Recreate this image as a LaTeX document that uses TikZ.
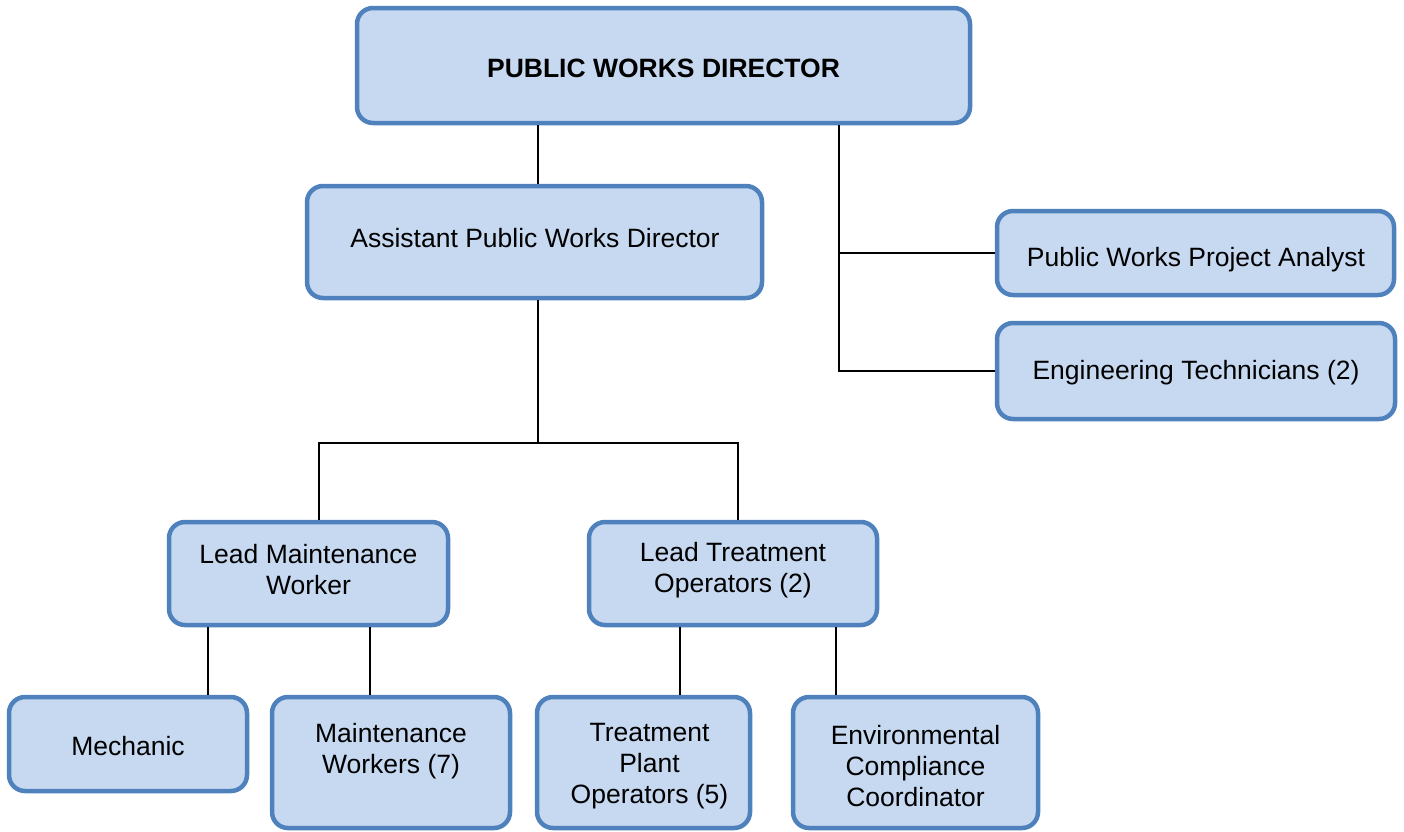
\documentclass[tikz,border=0pt]{standalone}
\usepackage{fontspec}
\setmainfont{Liberation Sans}
\definecolor{boxfill}{HTML}{C6D9F1}
\definecolor{boxline}{HTML}{4F81BD}
\begin{document}
\begin{tikzpicture}[x=1pt,y=-1pt,
  box/.style={draw=boxline,fill=boxfill,line width=4.5pt,rounded corners=16pt,inner sep=0pt},
  txt/.style={align=center,font=\fontsize{26.5}{31}\selectfont,inner sep=0pt},
  conn/.style={draw=black,line width=2pt}]
\useasboundingbox (0,0) rectangle (1404,831);
% boxes
\node[box,minimum width=613pt,minimum height=115pt] (dir) at (663.5,65.5) {};
\node[box,minimum width=455pt,minimum height=112pt] (asst) at (534.5,242) {};
\node[box,minimum width=397pt,minimum height=84pt] (anal) at (1195.5,253) {};
\node[box,minimum width=398pt,minimum height=96pt] (eng) at (1196,371) {};
\node[box,minimum width=279pt,minimum height=103pt] (lm) at (308.5,573.5) {};
\node[box,minimum width=288pt,minimum height=103pt] (lt) at (733,573.5) {};
\node[box,minimum width=238pt,minimum height=94pt] (mech) at (128,744) {};
\node[box,minimum width=238pt,minimum height=131pt] (mw) at (391,762.5) {};
\node[box,minimum width=213pt,minimum height=131pt] (tp) at (643.5,762.5) {};
\node[box,minimum width=245pt,minimum height=131pt] (env) at (915.5,762.5) {};
% texts
\node[txt,font=\fontsize{26.5}{31}\selectfont\bfseries] (tdir) at (663.5,68) {PUBLIC WORKS DIRECTOR};
\node[txt] (tasst) at (535,238) {Assistant Public Works Director};
\node[txt] (tanal) at (1196,260) {Public Works Project Analyst};
\node[txt] (teng) at (1196,373) {Engineering Technicians (2)};
\node[txt] (tlm) at (308.5,570) {Lead Maintenance\\Worker};
\node[txt] (tlt) at (733,570) {Lead Treatment\\Operators (2)};
\node[txt] (tmech) at (128,746) {Mechanic};
\node[txt] (tmw) at (391,751) {Maintenance\\Workers (7)};
\node[txt] (ttp) at (649.5,766) {Treatment\\Plant\\Operators (5)};
\node[txt] (tenv) at (915.5,766) {Environmental\\Compliance\\Coordinator};
% junction coordinates
\coordinate (xa) at (538,0);
\coordinate (xr) at (839,0);
\coordinate (ja) at (538,443);
\coordinate (jl) at (319,443);
\coordinate (jr) at (738,443);
\coordinate (x1) at (208,0);
\coordinate (x2) at (370,0);
\coordinate (x3) at (680,0);
\coordinate (x4) at (836,0);
% connectors
\draw[conn] (dir.south -| xa) -- (asst.north -| xa);
\draw[conn] (dir.south -| xr) -- (eng.west -| xr) -- (eng.west);
\draw[conn] (anal.west -| xr) -- (anal.west);
\draw[conn] (asst.south -| xa) -- (ja);
\draw[conn] (lm.north -| jl) -- (jl) -- (jr) -- (lt.north -| jr);
\draw[conn] (lm.south -| x1) -- (mech.north -| x1);
\draw[conn] (lm.south -| x2) -- (mw.north -| x2);
\draw[conn] (lt.south -| x3) -- (tp.north -| x3);
\draw[conn] (lt.south -| x4) -- (env.north -| x4);
\end{tikzpicture}
\end{document}
